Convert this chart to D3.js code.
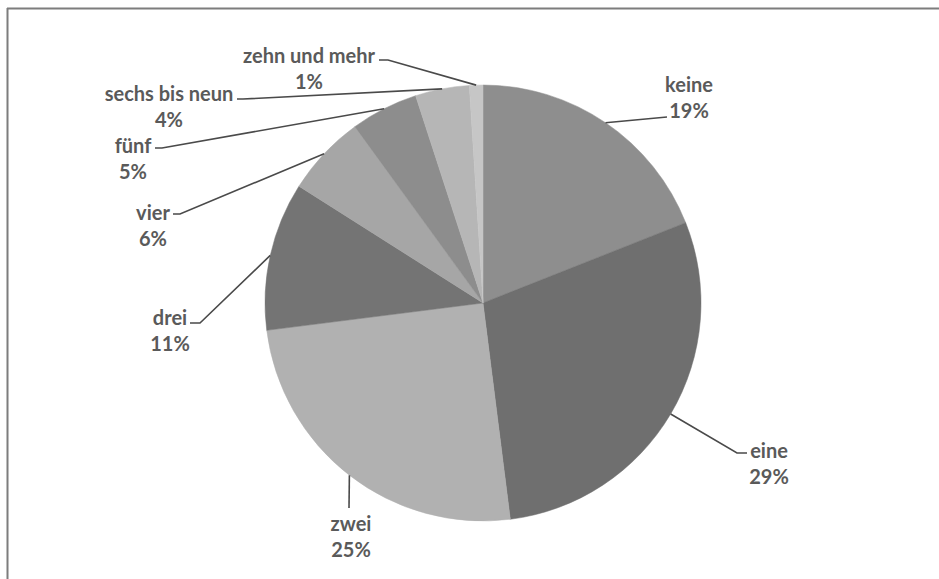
<!DOCTYPE html>
<html>
<head>
<meta charset="utf-8">
<script src="https://cdn.jsdelivr.net/npm/d3@7"></script>
<style>
  body { margin: 0; background: #fff; }
  svg { display: block; }
  text { font-family: Lato, "Open Sans", sans-serif; font-weight: bold; font-size: 20px; fill: #5a5a5a; }
</style>
</head>
<body>
<div id="chart"></div>
<script>
var width = 939;
var height = 579;

// data
var categories = ["keine", "eine", "zwei", "drei", "vier", "fünf", "sechs bis neun", "zehn und mehr"];
var values = [19, 29, 25, 11, 6, 5, 4, 1];
var shades = ["#8e8e8e", "#6f6f6f", "#b1b1b1", "#747474", "#a6a6a6", "#8d8d8d", "#b6b6b6", "#c6c6c6"];

// label layout: text block centre and leader line elbow / end
var labelLayout = [
    { cx: 689, y: 84, elbow: [667, 117], end: [667, 117] },
    { cx: 769, y: 450, elbow: [737, 453], end: [747, 453] },
    { cx: 351, y: 523, elbow: [349, 508], end: [349, 508] },
    { cx: 170, y: 317, elbow: [200, 323], end: [190, 323] },
    { cx: 153, y: 212, elbow: [180, 214], end: [173, 214] },
    { cx: 133, y: 145, elbow: [162, 148], end: [155, 148] },
    { cx: 169, y: 93, elbow: [243, 99], end: [237, 99] },
    { cx: 309, y: 55, elbow: [388, 60], end: [379, 60] }
];

var cx = 483, cy = 303, radius = 218;

var svg = d3.select("#chart").append("svg")
    .attr("width", width)
    .attr("height", height);

// frame (only top and left edges are visible in the scan)
svg.append("line").attr("x1", 7).attr("y1", 8.5).attr("x2", width).attr("y2", 8.5)
    .attr("stroke", "#7d7d7d").attr("stroke-width", 2);
svg.append("line").attr("x1", 7.5).attr("y1", 8).attr("x2", 7.5).attr("y2", height)
    .attr("stroke", "#7d7d7d").attr("stroke-width", 2);

var color = d3.scaleOrdinal(categories, shades);

var rows = categories.map(function (c, i) {
    return { name: c, value: values[i], layout: labelLayout[i] };
});

var pie = d3.pie().sort(null).value(function (d) { return d.value; });
var arcs = pie(rows);

var arc = d3.arc().innerRadius(0).outerRadius(radius);

var g = svg.append("g").attr("transform", "translate(" + cx + "," + cy + ")");

g.selectAll("path.slice")
    .data(arcs)
    .enter().append("path")
    .attr("class", "slice")
    .attr("d", arc)
    .attr("fill", function (d) { return color(d.data.name); })
    .attr("stroke", function (d) { return color(d.data.name); })
    .attr("stroke-width", 0.5);

// leader lines from the slice edge to the labels
var line = d3.line();
svg.selectAll("path.leader")
    .data(arcs)
    .enter().append("path")
    .attr("class", "leader")
    .attr("d", function (d) {
        var a = (d.startAngle + d.endAngle) / 2;
        var p = [cx + Math.sin(a) * radius, cy - Math.cos(a) * radius];
        return line([p, d.data.layout.elbow, d.data.layout.end]);
    })
    .attr("fill", "none")
    .attr("stroke", "#4a4a4a")
    .attr("stroke-width", 1.6);

var pct = d3.format(".0%");
var labels = svg.selectAll("g.label")
    .data(arcs)
    .enter().append("g")
    .attr("class", "label");

labels.append("text")
    .attr("x", function (d) { return d.data.layout.cx; })
    .attr("y", function (d) { return d.data.layout.y; })
    .attr("text-anchor", "middle")
    .attr("dominant-baseline", "central")
    .text(function (d) { return d.data.name; });

labels.append("text")
    .attr("x", function (d) { return d.data.layout.cx; })
    .attr("y", function (d) { return d.data.layout.y + 26; })
    .attr("text-anchor", "middle")
    .attr("dominant-baseline", "central")
    .text(function (d) { return pct(d.data.value / 100); });
</script>
</body>
</html>
